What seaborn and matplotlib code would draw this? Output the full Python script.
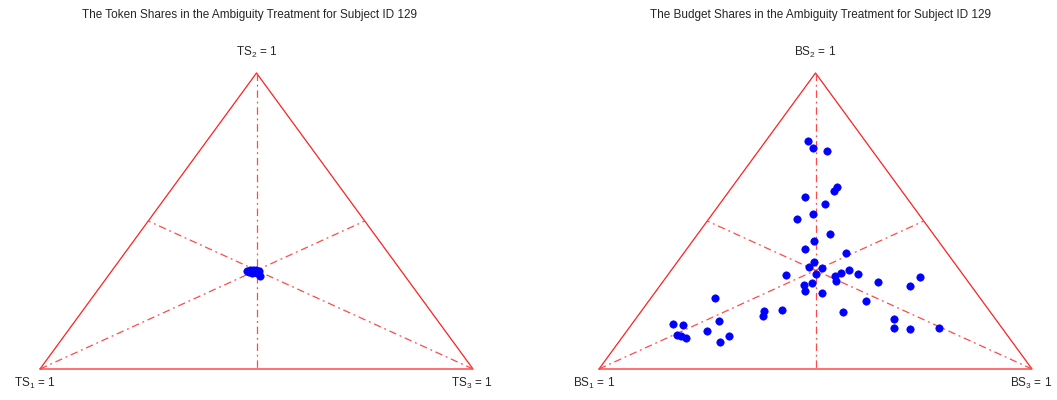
import numpy as np
import pandas as pd
import matplotlib
matplotlib.use("Agg")
import matplotlib.pyplot as plt
import seaborn as sns

# token shares (left panel), one value per choice
ts1 = [0.356, 0.348, 0.341, 0.334, 0.329, 0.335, 0.337, 0.349, 0.353, 0.339]
ts2 = [0.331, 0.334, 0.334, 0.334, 0.331, 0.314, 0.324, 0.324, 0.328, 0.328]
ts3 = [0.313, 0.318, 0.325, 0.332, 0.340, 0.351, 0.339, 0.327, 0.319, 0.333]

# budget shares (right panel)
bs1 = [0.132, 0.133, 0.105, 0.143, 0.156, 0.234, 0.200, 0.244, 0.289, 0.238,
       0.288, 0.322, 0.233, 0.323, 0.344, 0.314, 0.340, 0.409, 0.298, 0.279,
       0.256, 0.241, 0.304, 0.209, 0.104, 0.142, 0.383, 0.363, 0.392, 0.356,
       0.612, 0.269, 0.521, 0.531, 0.477, 0.340, 0.643, 0.753, 0.732, 0.234,
       0.248, 0.213, 0.144, 0.686, 0.763, 0.753, 0.746, 0.644, 0.675]
bs2 = [0.770, 0.746, 0.735, 0.614, 0.601, 0.580, 0.556, 0.523, 0.506, 0.455,
       0.431, 0.404, 0.391, 0.363, 0.344, 0.340, 0.320, 0.317, 0.315, 0.323,
       0.333, 0.320, 0.296, 0.293, 0.310, 0.279, 0.285, 0.291, 0.265, 0.256,
       0.241, 0.229, 0.195, 0.180, 0.200, 0.192, 0.161, 0.151, 0.149, 0.170,
       0.140, 0.136, 0.140, 0.127, 0.116, 0.113, 0.106, 0.111, 0.090]
bs3 = [0.098, 0.121, 0.160, 0.243, 0.243, 0.186, 0.244, 0.233, 0.205, 0.307,
       0.281, 0.274, 0.376, 0.314, 0.312, 0.346, 0.340, 0.274, 0.387, 0.398,
       0.411, 0.439, 0.400, 0.498, 0.586, 0.579, 0.332, 0.346, 0.344, 0.388,
       0.147, 0.502, 0.284, 0.289, 0.323, 0.468, 0.196, 0.096, 0.119, 0.596,
       0.612, 0.651, 0.716, 0.187, 0.121, 0.134, 0.148, 0.245, 0.235]

titles = ["The Token Shares in the Ambiguity Treatment for Subject ID 129",
          "The Budget Shares in the Ambiguity Treatment for Subject ID 129"]
prefixes = ["TS", "BS"]

sns.set_style("white")
plt.rcParams["font.family"] = ["Liberation Sans", "DejaVu Sans"]
plt.rcParams["mathtext.fontset"] = "custom"
plt.rcParams["mathtext.rm"] = "Liberation Sans"


def to_xy(s1, s2, s3):
    s1, s2, s3 = np.asarray(s1), np.asarray(s2), np.asarray(s3)
    return s3 + s2 / 2, s2


fig = plt.figure(figsize=(10.57, 4.0), dpi=100)
ax_l = fig.add_axes([0, 0, 0.5, 1])
ax_r = fig.add_axes([0.5, 0, 0.5, 1])

panels = [(ax_l, ts1, ts2, ts3, (-40 / 433, 488.5 / 433)),
          (ax_r, bs1, bs2, bs3, (-70.5 / 433, 458 / 433))]

verts = np.array([[0, 0], [0.5, 1], [1, 0], [0, 0]])
mids = [((0, 0), (0.75, 0.5)), ((0.5, 1), (0.5, 0)), ((1, 0), (0.25, 0.5))]

for i, (ax, a, b, c, xl) in enumerate(panels):
    ax.plot(verts[:, 0], verts[:, 1], color="#ff2020", lw=0.9)
    for p, q in mids:
        ax.plot([p[0], q[0]], [p[1], q[1]], color="#ff4a4a", lw=0.9,
                dashes=(6, 3, 1.5, 3))
    x, y = to_xy(a, b, c)
    df = pd.DataFrame({"x": x, "y": y})
    sns.scatterplot(data=df, x="x", y="y", ax=ax, color="#0000ff", s=28,
                    marker="o", edgecolor="#0000ff", linewidth=0.5, zorder=5)
    pre = prefixes[i]
    ax.text(0.5, 1.071, pre + r"$_\mathregular{2}$ = 1", ha="center",
            va="center", fontsize=8.5)
    ax.text(-0.012, -0.05, pre + r"$_\mathregular{1}$ = 1", ha="center",
            va="center", fontsize=8.5)
    ax.text(0.998, -0.05, pre + r"$_\mathregular{3}$ = 1", ha="center",
            va="center", fontsize=8.5)
    ax.set_xlim(*xl)
    ax.set_ylim(-31 / 296, 369 / 296)
    ax.set_xlabel("")
    ax.set_ylabel("")
    ax.axis("off")

fig.text(250 / 1057, 1 - 15 / 400, titles[0], ha="center", va="center",
         fontsize=8.5)
fig.text(821 / 1057, 1 - 15 / 400, titles[1], ha="center", va="center",
         fontsize=8.5)

fig.savefig("out.png", dpi=100)
